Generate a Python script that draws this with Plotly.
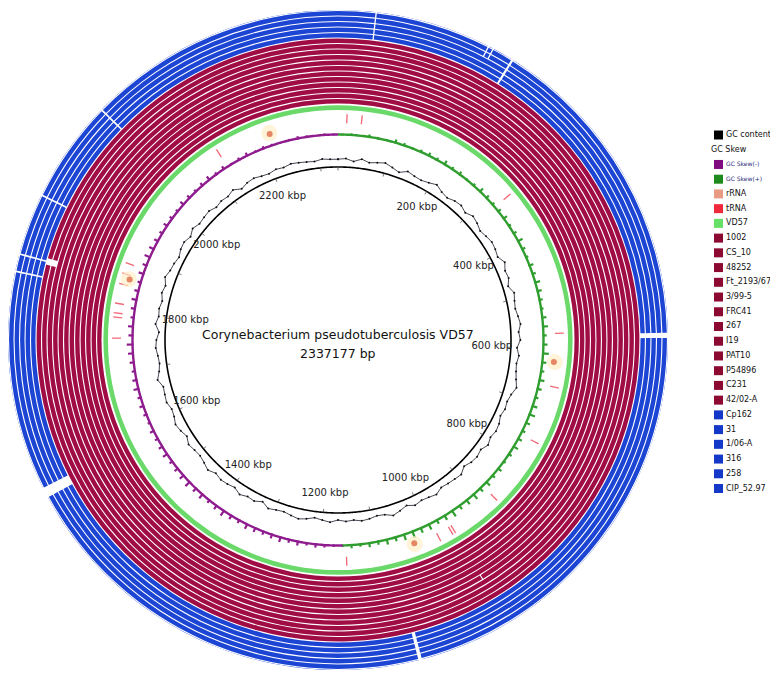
import plotly.graph_objects as go

GENOME_KBP = 2337.177
genome_title = "Corynebacterium pseudotuberculosis VD57"
genome_size_label = "2337177 bp"

# backbone scale labels (kbp)
scale_kbp = [200, 400, 600, 800, 1000, 1200, 1400, 1600, 1800, 2000, 2200]
scale_labels = [f"{k} kbp" for k in scale_kbp]
minor_tick_kbp = list(range(0, 2337, 100))
outer_dot_kbp = list(range(0, 2337, 40))

# BLAST rings, innermost first
ring_names = ["VD57", "1002", "CS_10", "48252", "Ft_2193/67", "3/99-5", "FRC41", "267", "I19",
              "PAT10", "P54896", "C231", "42/02-A", "Cp162", "31", "1/06-A", "316", "258", "CIP_52.97"]
ring_colors = ["#6ad96a"] + ["#a00d45"] * 12 + ["#1d45d4"] * 6

# regions without hits (kbp start, kbp end) per ring
blue_gaps = [(42.5, 44.0), (206.0, 208.5), (576.0, 582.0), (1073.0, 1077.0), (1568.0, 1580.0),
             (1830.0, 1832.0), (1850.0, 1852.0), (1921.0, 1923.0), (2039.0, 2041.0)]
blue_outer_gaps = [(175.5, 177.0), (181.5, 183.0)]
ring_gaps = [[]] * 8 + [[(965.5, 967.0)]] + [[]] * 2 + [[(1847.0, 1855.0)]] * 2 \
    + [blue_gaps] * 3 + [blue_gaps + blue_outer_gaps] * 3

# feature tracks (kbp)
trna_kbp = [15, 40, 323, 573, 664, 762, 878, 965, 970, 993, 1154,
            1756, 1791, 1798, 1814, 1847, 1865, 1883, 2126]
rrna_kbp = [622, 1035, 1858, 2218]

# GC skew (sliding windows, clockwise from origin), GC content deviation
gc_skew = [2, 3, 2, 4, 3, 3, 5, 4, 3, 4, 5, 4, 6, 4, 5, 3, 4, 6, 5, 4, 5, 6, 4, 5,
           7, 5, 4, 6, 5, 7, 6, 5, 4, 6, 7, 5, 6, 8, 6, 5, 7, 6, 5, 7, 8, 6, 5, 6,
           7, 5, 4, 6, 5, 7, 6, 8, 7, 6, 9, 7, 6, 8, 7, 9, 8, 6, 7, 5, 6, 4, 5, 3,
           -3, -4, -5, -4, -6, -5, -7, -6, -5, -6, -7, -5, -6, -8, -6, -5, -7, -6, -8, -7, -6, -5, -7, -6,
           -5, -6, -4, -5, -6, -5, -7, -6, -5, -6, -7, -8, -6, -7, -5, -6, -7, -6, -5, -7, -6, -8, -7, -6,
           -5, -6, -5, -4, -6, -5, -4, -5, -6, -4, -5, -3, -4, -5, -3, -4, -3, -2, -3, -4, -3, -2, -3, -2]
gc_content = [1, 2, -1, 3, 0, 2, 4, 1, -2, 3, 1, 0, 2, 5, 1, -1, 2, 3, 0, 4, 2, -1, 1, 3,
              2, 0, 5, 1, 2, -2, 3, 1, 0, 2, 4, 1, 3, -1, 2, 0, 1, 3, 6, 2, 0, 1, -1, 2,
              3, 1, 4, 0, 2, 1, -2, 3, 2, 1, 0, 4, 2, 1, 3, -1, 2, 5, 1, 0, 2, 3, 1, 2,
              0, 3, 1, -1, 2, 4, 2, 0, 1, 3, -2, 2, 1, 4, 0, 2, 3, 1, 5, 2, 0, 1, 3, -1,
              2, 4, 1, 0, 3, 2, 1, 6, 2, 0, 1, 3, 2, -1, 4, 1, 2, 0, 3, 1, 5, 2, 1, -1,
              2, 3, 0, 4, 1, 2, 3, 0, 2, 1, 4, -1, 2, 3, 1, 0, 2, 1, 3, 2, 1, 0, 2, 1]
skew_switch_kbp = 1160

legend_labels = ["GC content", "GC Skew", "GC Skew(-)", "GC Skew(+)", "rRNA", "tRNA"] + ring_names
legend_colors = ["#000000", None, "#800a80", "#1e8a1e", "#e89a82", "#f0283c"] \
    + ["#66e066"] + ["#8c0a32"] * 12 + ["#1438c8"] * 6

# page is drawn 8px in from the window corner
CX, CY, R = 330, 332, 330
W, H = 778, 679


def deg(kbp):
    return kbp / GENOME_KBP * 360.0


def segments(gaps):
    out, start = [], 0.0
    for a, b in sorted(gaps):
        out.append((start, a))
        start = b
    out.append((start, GENOME_KBP))
    return out


def arc(a0, a1):
    steps = int((a1 - a0) * 2) + 1
    return [a0 + (a1 - a0) * i / steps for i in range(steps + 1)]


fig = go.Figure()

# backbone
circle_theta = arc(0, 360)
fig.add_trace(go.Scatterpolar(r=[173] * len(circle_theta), theta=circle_theta, mode="lines",
                              line=dict(color="black", width=1.6), hoverinfo="skip"))
tick_r, tick_t = [], []
for k in minor_tick_kbp:
    tick_r += [173, 169.5, None]
    tick_t += [deg(k), deg(k), None]
fig.add_trace(go.Scatterpolar(r=tick_r, theta=tick_t, mode="lines",
                              line=dict(color="#555", width=0.8), hoverinfo="skip"))
fig.add_trace(go.Scatterpolar(r=[154] * len(scale_kbp), theta=[deg(k) for k in scale_kbp],
                              mode="text", text=scale_labels,
                              textfont=dict(family="DejaVu Sans", size=10, color="#222")))

# GC content
n = len(gc_content)
fig.add_trace(go.Scatterpolar(r=[180 + 0.8 * v for v in gc_content] + [180 + 0.8 * gc_content[0]],
                              theta=[i * 360 / n for i in range(n)] + [360],
                              mode="lines+markers", line=dict(color="#1a1a2a", width=0.8),
                              marker=dict(color="#111", size=2), hoverinfo="skip"))

# GC skew
m = len(gc_skew)
for (a0, a1), color in [((0, deg(skew_switch_kbp)), "#2f9e2f"), ((deg(skew_switch_kbp), 360), "#8e1c8e")]:
    th = arc(a0, a1)
    fig.add_trace(go.Scatterpolar(r=[205.5] * len(th), theta=th, mode="lines",
                                  line=dict(color=color, width=2.4), hoverinfo="skip"))
for sign, color in [(1, "#2f9e2f"), (-1, "#8e1c8e")]:
    idx = [i for i, v in enumerate(gc_skew) if v * sign > 0]
    fig.add_trace(go.Barpolar(theta=[(i + 0.5) * 360 / m for i in idx], width=[0.6] * len(idx),
                              base=[204.5] * len(idx), r=[abs(gc_skew[i]) * 0.85 for i in idx],
                              marker=dict(color=color, line=dict(width=0)), hoverinfo="skip"))

# tRNA
fig.add_trace(go.Barpolar(theta=[deg(k) for k in trna_kbp], width=[0.35] * len(trna_kbp),
                          base=[217] * len(trna_kbp), r=[9] * len(trna_kbp),
                          marker=dict(color="#f26a78", line=dict(width=0)), hoverinfo="skip"))

# BLAST rings
for i, (name, color, gaps) in enumerate(zip(ring_names, ring_colors, ring_gaps)):
    if i == 0:
        r0, th = 230.0, 4.6
    else:
        r0, th = 236.5 + (i - 1) * 5.5, 4.4
    segs = segments(gaps)
    fig.add_trace(go.Barpolar(theta=[deg((a + b) / 2) for a, b in segs],
                              width=[deg(b - a) for a, b in segs],
                              base=[r0] * len(segs), r=[th] * len(segs), name=name,
                              marker=dict(color=color, line=dict(width=0)), hoverinfo="skip"))

# rRNA (blob with pale halo)
fig.add_trace(go.Scatterpolar(r=[218] * len(rrna_kbp), theta=[deg(k) for k in rrna_kbp], mode="markers",
                              marker=dict(color="rgba(255,238,200,0.7)", size=16, line=dict(width=0)),
                              hoverinfo="skip"))
fig.add_trace(go.Scatterpolar(r=[217] * len(rrna_kbp), theta=[deg(k) for k in rrna_kbp], mode="markers",
                              marker=dict(color="#e58664", size=6, line=dict(width=0)), hoverinfo="skip"))

fig.add_trace(go.Scatterpolar(r=[337.2] * len(outer_dot_kbp), theta=[deg(k) for k in outer_dot_kbp],
                              mode="markers", marker=dict(color="#888", size=2), cliponaxis=False,
                              hoverinfo="skip"))

# legend drawn on a hidden cartesian panel
row_y = [127 + i * 14.73 for i in range(len(legend_labels))]
mk = [i for i, c in enumerate(legend_colors) if c]
fig.add_trace(go.Scatter(x=[710.5] * len(mk), y=[row_y[i] for i in mk], mode="markers",
                         marker=dict(symbol="square", size=9, color=[legend_colors[i] for i in mk],
                                     line=dict(width=0)),
                         xaxis="x", yaxis="y", hoverinfo="skip"))
txt_size = [6 if "(" in s else 8 for s in legend_labels]
txt_color = ["#2a2a7a" if "(" in s else "#111" for s in legend_labels]
txt_x = [703 if c is None else 718 for c in legend_colors]
fig.add_trace(go.Scatter(x=txt_x, y=row_y, mode="text", text=legend_labels, textposition="middle right",
                         textfont=dict(family="DejaVu Sans", size=txt_size, color=txt_color),
                         cliponaxis=False, xaxis="x", yaxis="y", hoverinfo="skip"))

fig.update_layout(
    width=W, height=H, margin=dict(l=0, r=0, t=0, b=0),
    paper_bgcolor="white", plot_bgcolor="rgba(0,0,0,0)", showlegend=False,
    polar=dict(domain=dict(x=[(CX - R) / W, (CX + R) / W], y=[(H - CY - R) / H, (H - CY + R) / H]),
               bgcolor="white", barmode="overlay", hole=0,
               radialaxis=dict(range=[0, R], visible=False),
               angularaxis=dict(rotation=90, direction="clockwise", visible=False)),
    xaxis=dict(domain=[690 / W, 1], range=[690, W], visible=False, fixedrange=True),
    yaxis=dict(domain=[0, 1], range=[H, 0], visible=False, fixedrange=True),
    annotations=[
        dict(x=CX / W, y=(H - 327) / H, xref="paper", yref="paper", text=genome_title,
             showarrow=False, font=dict(family="DejaVu Sans", size=12.5, color="#111")),
        dict(x=CX / W, y=(H - 345) / H, xref="paper", yref="paper", text=genome_size_label,
             showarrow=False, font=dict(family="DejaVu Sans", size=12.5, color="#111")),
    ],
)

fig.write_html("out.html")
